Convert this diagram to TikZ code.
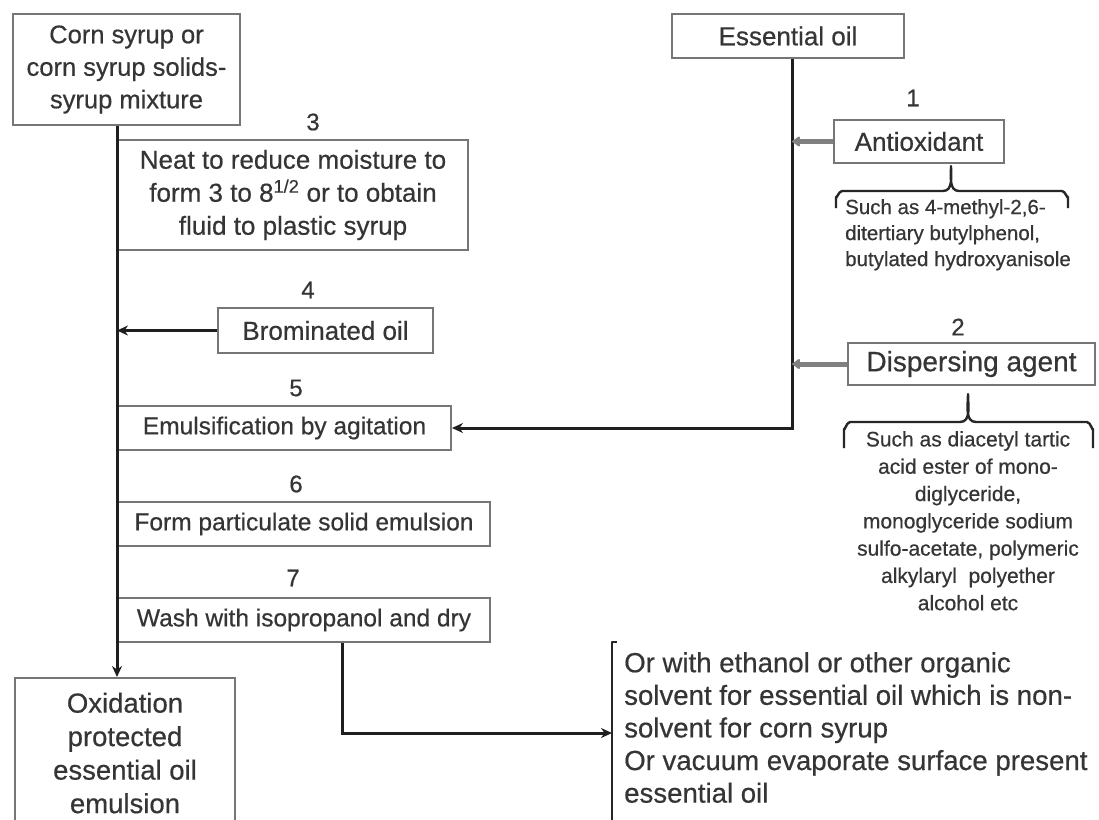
\documentclass[tikz,border=0pt]{standalone}
\usepackage{fontspec}
\setmainfont{Liberation Sans}[UprightFeatures={FakeBold=0.5}]
\usetikzlibrary{arrows.meta}
\definecolor{txt}{HTML}{353535}
\definecolor{bord}{HTML}{767676}
\definecolor{garr}{HTML}{808080}
\begin{document}
\begin{tikzpicture}[x=1pt,y=-1pt,
  box/.style={draw=bord,line width=2pt,inner sep=0pt,align=center,text=txt},
  num/.style={text=txt,inner sep=0pt,font=\fontsize{24}{28}\selectfont},
  small/.style={text=txt,inner sep=0pt},
  ln/.style={line width=3pt,black!88},
  blk/.style={ln,-{Stealth[length=11pt,width=10pt]}},
  gry/.style={line width=5pt,garr,-{Latex[round,length=9pt,width=13pt]}},
  brk/.style={line width=2.4pt,black!85,line join=round}]
\useasboundingbox (0,0) rectangle (1099,819);
\clip (0,0) rectangle (1099,819);
\fill[white] (0,0) rectangle (1099,819);
% left column
\node[box,minimum width=227pt,minimum height=111pt,font=\fontsize{25.5}{32.5}\selectfont] (corn) at (126.5,69.5) {Corn syrup or\\corn syrup solids-\\syrup mixture};
\node[num] (n3) at (313,122) {3};
\node[box,minimum width=350pt,minimum height=110pt,font=\fontsize{26}{33}\selectfont] (neat) at (293,195) {Neat to reduce moisture to\\form 3 to 8\textsuperscript{1/2} or to obtain\\fluid to plastic syrup};
\node[num] (n4) at (308,290) {4};
\node[box,minimum width=215pt,minimum height=45pt,font=\fontsize{26}{32}\selectfont] (brom) at (325.5,330.5) {Brominated oil};
\node[num] (n5) at (296,388) {5};
\node[box,minimum width=333pt,minimum height=44pt,font=\fontsize{24.5}{30}\selectfont] (emul) at (284.5,428) {Emulsification by agitation};
\node[num] (n6) at (296,484) {6};
\node[box,minimum width=372pt,minimum height=44pt,font=\fontsize{24.5}{30}\selectfont] (form) at (304,524) {Form particulate solid emulsion};
\node[num] (n7) at (293,578) {7};
\node[box,minimum width=372pt,minimum height=44pt,font=\fontsize{24.5}{30}\selectfont] (wash) at (304,620) {Wash with isopropanol and dry};
\node[box,minimum width=220pt,minimum height=150pt,font=\fontsize{27.5}{33.5}\selectfont] (oxid) at (125,753) {Oxidation\\protected\\essential oil\\emulsion};
% right column
\node[box,minimum width=232pt,minimum height=44pt,font=\fontsize{26}{32}\selectfont] (ess) at (788,36) {Essential oil};
\node[num] (n1) at (913,98) {1};
\node[box,minimum width=170pt,minimum height=43pt,font=\fontsize{26}{32}\selectfont] (anti) at (919,141.5) {Antioxidant};
\node[small,anchor=north west,align=left,font=\fontsize{20.5}{26}\selectfont] (antitx) at (845,199) {Such as 4-methyl-2,6-\\ditertiary butylphenol,\\butylated hydroxyanisole};
\node[num] (n2) at (958,327) {2};
\node[box,minimum width=247pt,minimum height=42pt,font=\fontsize{28}{34}\selectfont] (disp) at (971.5,364) {Dispersing agent};
\node[small,anchor=north,align=center,font=\fontsize{21}{27.3}\selectfont] (disptx) at (968,431) {Such as diacetyl tartic\\acid ester of mono-\\diglyceride,\\monoglyceride sodium\\sulfo-acetate, polymeric\\alkylaryl\ \ polyether\\alcohol etc};
\node[text=txt,inner sep=0pt,anchor=north west,align=left,font=\fontsize{27.6}{32.6}\selectfont] (alt) at (624,652) {Or with ethanol or other organic\\solvent for essential oil which is non-\\solvent for corn syrup\\Or vacuum evaporate surface present\\essential oil};
% connectors
\coordinate (top) at ([xshift=4pt]ess.south);
\draw[blk] (corn.south -| neat.west) -- (oxid.north -| neat.west);
\draw[blk] (brom.west) -- (brom.west -| neat.west);
\draw[blk] (top) |- (emul.east);
\draw[gry] (anti.west) -- (anti.west -| top);
\draw[gry] (disp.west) -- (disp.west -| top);
\coordinate (bk) at (612,733);
\draw[blk] ([xshift=38pt]wash.south) |- (bk);
% bracket
\draw[brk] (617,642) -- (612,642) -- (612,830);
% braces
\draw[brk] (836,208) -- (836,197) to[out=-90,in=180] (842,191) -- (943,191) to[out=0,in=-90] (951,166) to[out=-90,in=180] (959,191) -- (1062,191) to[out=0,in=-90] (1068,197) -- (1068,208);
\draw[brk] (844,448) -- (844,429) to[out=-90,in=180] (850,422) -- (960,422) to[out=0,in=-90] (968,394) to[out=-90,in=180] (976,422) -- (1087,422) to[out=0,in=-90] (1093,429) -- (1093,448);
\end{tikzpicture}
\end{document}
